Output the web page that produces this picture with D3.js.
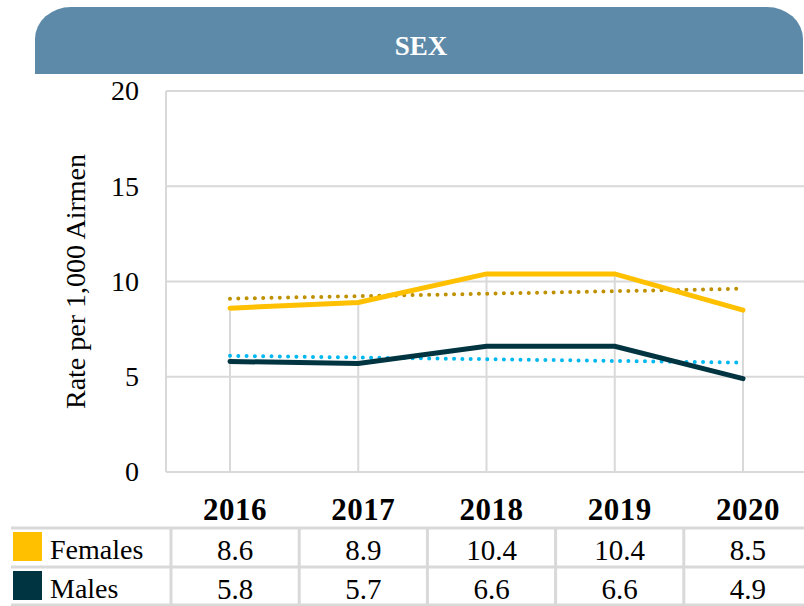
<!DOCTYPE html>
<html>
<head>
<meta charset="utf-8">
<script src="https://cdn.jsdelivr.net/npm/d3@7"></script>
<style>
  body { margin: 0; background: #fff; }
  svg { display: block; }
</style>
</head>
<body>
<div id="viz"></div>
<script>
// data
const years = ["2016", "2017", "2018", "2019", "2020"];
const females = [8.6, 8.9, 10.4, 10.4, 8.5];
const males = [5.8, 5.7, 6.6, 6.6, 4.9];
// trendline end points (first year, last year)
const femalesTrend = [9.1, 9.62];
const malesTrend = [6.1, 5.74];
const yTicks = [0, 5, 10, 15, 20];
const seriesNames = ["Females", "Males"];

const width = 804, height = 606;
const grid = "#d9d9d9";
const font = "'Liberation Serif', 'Times New Roman', serif";

const svg = d3.select("#viz").append("svg")
    .attr("width", width)
    .attr("height", height);

// header band with rounded top corners
const hx0 = 35, hx1 = 803, hy0 = 7, hy1 = 74, rx = 36, ry = 32;
svg.append("path")
    .attr("d", `M${hx0},${hy1} L${hx0},${hy0 + ry} A${rx},${ry} 0 0 1 ${hx0 + rx},${hy0}
      L${hx1 - rx},${hy0} A${rx},${ry} 0 0 1 ${hx1},${hy0 + ry} L${hx1},${hy1} Z`)
    .attr("fill", "#5d8aa9");
svg.append("text")
    .attr("x", 421).attr("y", 55)
    .attr("text-anchor", "middle")
    .attr("font-family", font)
    .attr("font-weight", "bold")
    .attr("font-size", 27)
    .attr("fill", "#fff")
    .text("SEX");

// scales
const x = d3.scalePoint().domain(years).range([230, 743]);
const y = d3.scaleLinear().domain([0, 20]).range([472, 91]);
const plotLeft = 166, plotRight = 804;

// horizontal gridlines
svg.append("g").selectAll("line")
    .data(yTicks)
    .join("line")
    .attr("x1", plotLeft).attr("x2", plotRight)
    .attr("y1", d => y(d)).attr("y2", d => y(d))
    .attr("stroke", grid).attr("stroke-width", 2);

// left axis line
svg.append("line")
    .attr("x1", plotLeft).attr("x2", plotLeft)
    .attr("y1", y(20)).attr("y2", y(0))
    .attr("stroke", grid).attr("stroke-width", 2);

// y axis tick labels
const yAxis = d3.axisLeft(y).tickValues(yTicks).tickSize(0).tickPadding(0);
svg.append("g")
    .attr("transform", "translate(139,0)")
    .call(yAxis)
    .call(g => g.select(".domain").remove())
    .selectAll("text")
    .attr("font-family", font)
    .attr("font-size", 28)
    .attr("fill", "#000");

// y label
svg.append("text")
    .attr("transform", "translate(85," + y(10) + ") rotate(-90)")
    .attr("text-anchor", "middle")
    .attr("font-family", font)
    .attr("font-size", 28)
    .text("Rate per 1,000 Airmen");

// drop lines from highest value to axis
svg.append("g").selectAll("line")
    .data(years)
    .join("line")
    .attr("x1", d => x(d)).attr("x2", d => x(d))
    .attr("y1", (d, i) => y(Math.max(females[i], males[i])))
    .attr("y2", y(0))
    .attr("stroke", grid).attr("stroke-width", 2);

// trendlines
const first = years[0], last = years[years.length - 1];
function trend(vals, color) {
  svg.append("line")
      .attr("x1", x(first)).attr("x2", x(last))
      .attr("y1", y(vals[0])).attr("y2", y(vals[1]))
      .attr("stroke", color)
      .attr("stroke-width", 4)
      .attr("stroke-linecap", "round")
      .attr("stroke-dasharray", "0,8.3");
}
trend(femalesTrend, "#bf9000");
trend(malesTrend, "#00b8f0");

// data lines
const line = d3.line()
    .x((d, i) => x(years[i]))
    .y(d => y(d));
function series(vals, color) {
  svg.append("path")
      .datum(vals)
      .attr("d", line)
      .attr("fill", "none")
      .attr("stroke", color)
      .attr("stroke-width", 5)
      .attr("stroke-linecap", "round");
}
series(females, "#ffc000");
series(males, "#003441");

// data table
const col = d3.scaleBand().domain(years).range([171, 812]);
const colors = ["#ffc000", "#003441"];
const rowTop = [528, 567];
const rowBottom = 605;

svg.append("g").selectAll("text")
    .data(years)
    .join("text")
    .attr("x", d => col(d) + col.bandwidth() / 2)
    .attr("y", 520)
    .attr("text-anchor", "middle")
    .attr("font-family", font)
    .attr("font-weight", "bold")
    .attr("font-size", 31)
    .attr("letter-spacing", 0.5)
    .text(d => d);

// table lines
svg.append("g").selectAll("line")
    .data(rowTop.concat([rowBottom]))
    .join("line")
    .attr("x1", 11).attr("x2", width)
    .attr("y1", d => d).attr("y2", d => d)
    .attr("stroke", grid).attr("stroke-width", 3);
svg.append("g").selectAll("line")
    .data(years)
    .join("line")
    .attr("x1", d => col(d)).attr("x2", d => col(d))
    .attr("y1", rowTop[0]).attr("y2", rowBottom)
    .attr("stroke", grid).attr("stroke-width", 3);

[females, males].forEach((vals, r) => {
  const top = rowTop[r];
  svg.append("rect")
      .attr("x", 13).attr("y", top + 4)
      .attr("width", 29).attr("height", 29)
      .attr("fill", colors[r]);
  svg.append("text")
      .attr("x", 50).attr("y", top + 31)
      .attr("font-family", font)
      .attr("font-size", 28)
      .text(seriesNames[r]);
  svg.append("g").selectAll("text")
      .data(vals)
      .join("text")
      .attr("x", (d, i) => col(years[i]) + col.bandwidth() / 2)
      .attr("y", top + 32)
      .attr("text-anchor", "middle")
      .attr("font-family", font)
      .attr("font-size", 29)
      .text(d => d.toFixed(1));
});
</script>
</body>
</html>
